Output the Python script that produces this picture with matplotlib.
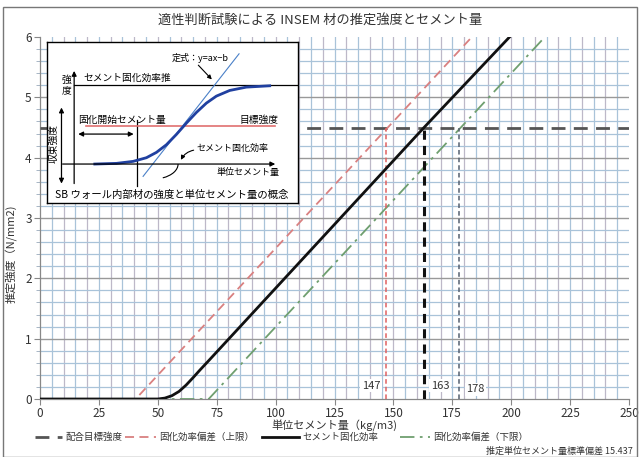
import numpy as np
import matplotlib
matplotlib.use("Agg")
import matplotlib.pyplot as plt
from matplotlib.patches import Rectangle, Arc
from matplotlib.lines import Line2D

plt.rcParams['font.family'] = ['Noto Sans CJK JP', 'DejaVu Sans']

# ---- data -------------------------------------------------------------
# cement solidification efficiency (kg/m3 -> N/mm2)
eff_x = [0, 50, 53, 56, 59, 62, 65, 68, 71, 163, 199.3]
eff_y = [0, 0, 0.015, 0.055, 0.125, 0.23, 0.355, 0.485, 0.61, 4.5, 6.0]
# deviation bands (upper / lower)
upper_x = [0, 40.6, 183.3]
upper_y = [0, 0, 6.0]
lower_x = [0, 71.6, 214.3]
lower_y = [0, 0, 6.0]
target_strength = 4.5
cement_upper = 147
cement_mid = 163
cement_lower = 178
std_dev = 15.437

x_ticks = [0, 25, 50, 75, 100, 125, 150, 175, 200, 225, 250]
y_ticks = [0, 1, 2, 3, 4, 5, 6]

legend_labels = ['配合目標強度', '固化効率偏差（上限）', 'セメント固化効率', '固化効率偏差（下限）']

# concept sketch (inset, sketch units)
s_curve_x = [165, 230, 280, 320, 350, 380, 410, 440, 470, 500, 530, 570, 620, 690]
s_curve_y = [403, 401, 395, 384, 368, 345, 314, 280, 248, 220, 199, 182, 172, 168]
tangent_x = [310, 598]
tangent_y = [440, 72]

# ---- figure -----------------------------------------------------------
W, H = 640, 457
fig = plt.figure(figsize=(6.4, 4.57), dpi=100)
fig.patches.append(Rectangle((3 / W, 0), (W - 6) / W, 1 - 7 / H,
                             transform=fig.transFigure, fill=False,
                             ec='#777777', lw=1.0, zorder=0))

ax = fig.add_axes([40 / W, 1 - 399 / H, (629 - 40) / W, (399 - 37) / H])
ax.set_xlim(0, 250)
ax.set_ylim(0, 6)

# grid: light blue minors, grey majors
for i, xv in enumerate(np.arange(5, 250, 5)):
    col = '#a9c3d9' if i % 2 == 0 else '#bdb8c8'
    ax.axvline(xv, color=col, lw=0.9, zorder=0)
for yv in np.arange(0.2, 6.0, 0.2):
    if abs(yv - round(yv)) < 1e-6:
        ax.axhline(yv, color='#999999', lw=1.0, zorder=0.5)
    else:
        ax.axhline(yv, color='#a9c3d9', lw=0.9, zorder=0)

ax.set_xticks(x_ticks)
ax.set_yticks(y_ticks)
ax.set_yticks(np.arange(0, 6.01, 0.2), minor=True)
ax.tick_params(axis='both', which='major', length=4, color='#888888',
               labelsize=8.5, labelcolor='#333333', pad=2)
ax.tick_params(axis='y', which='minor', length=3, color='#9ab')
for s in ax.spines.values():
    s.set_color('#888888')
    s.set_linewidth(0.9)
ax.spines['top'].set_visible(False)
ax.spines['right'].set_visible(False)

# curves
st_target = dict(color='#555555', lw=2.0, ls=(0, (5, 3)))
st_up = dict(color='#d98080', lw=1.3, ls=(0, (5, 3)))
st_eff = dict(color='#111111', lw=2.0, ls='-')
st_low = dict(color='#6f9f6f', lw=1.3, ls=(0, (8, 3, 1.5, 3)))

ax.axhline(target_strength, zorder=3, **st_target)
ax.plot(upper_x, upper_y, zorder=3, **st_up)
ax.plot(eff_x, eff_y, zorder=4, **st_eff)
ax.plot(lower_x, lower_y, zorder=3, **st_low)

# reading lines down to the x axis
ax.plot([cement_upper, cement_upper], [0, target_strength], color='#e06060',
        lw=1.1, ls=(0, (3, 2)), zorder=3)
ax.plot([cement_mid, cement_mid], [0, target_strength], color='#111111',
        lw=2.2, ls=(0, (3, 2)), zorder=3)
ax.plot([cement_lower, cement_lower], [0, target_strength], color='#556070',
        lw=1.1, ls=(0, (3, 2)), zorder=3)

bbox = dict(boxstyle='square,pad=0.15', fc='white', ec='none')
ax.text(cement_upper - 2.5, 0.22, str(cement_upper), ha='right', va='center',
        fontsize=8, color='#333333', bbox=bbox, zorder=5)
ax.text(cement_mid + 3, 0.22, str(cement_mid), ha='left', va='center',
        fontsize=8, color='#333333', bbox=bbox, zorder=5)
ax.text(cement_lower + 3, 0.16, str(cement_lower), ha='left', va='center',
        fontsize=8, color='#333333', bbox=bbox, zorder=5)

ax.set_xlabel('単位セメント量（kg/m3)', fontsize=8, color='#333333', labelpad=0)
ax.set_ylabel('推定強度（N/mm2)', fontsize=8, color='#333333')
ax.yaxis.set_label_coords(-0.038, 0.40)

fig.text(0.5, 1 - 20 / H, '適性判断試験による INSEM 材の推定強度とセメント量',
         ha='center', va='center', fontsize=9.5, color='#333333')

# legend row drawn item by item
leg_y = 1 - 437 / H
leg_items = [(35, 62, st_target), (125, 156, st_up), (262, 299, st_eff),
             (400, 430, st_low)]
for (h0, h1, st), lab in zip(leg_items, legend_labels):
    fig.add_artist(Line2D([h0 / W, h1 / W], [leg_y, leg_y],
                          transform=fig.transFigure, **st))
    fig.text((h1 + 3) / W, leg_y, lab, ha='left', va='center',
             fontsize=6.8, color='#333333')
fig.text(633 / W, 1 - 451 / H, f'推定単位セメント量標準偏差 {std_dev}',
         ha='right', va='center', fontsize=6.5, color='#333333')

# ---- concept inset ----------------------------------------------------
ix0, iy0, ix1, iy1 = 46.5, 41.5, 298, 203
ins = fig.add_axes([ix0 / W, 1 - iy1 / H, (ix1 - ix0) / W, (iy1 - iy0) / H],
                   zorder=10)
ins.set_xlim(20, 775)
ins.set_ylim(520, 35)
ins.set_xticks([])
ins.set_yticks([])
ins.set_facecolor('white')
for s in ins.spines.values():
    s.set_color('black')
    s.set_linewidth(1.0)

fs = 7
arr = dict(arrowstyle='-|>', color='black', lw=0.9, mutation_scale=7)
darr = dict(arrowstyle='<|-|>', color='black', lw=0.9, mutation_scale=7)
# axes of the sketch
ins.annotate('', xy=(103, 115), xytext=(103, 470), arrowprops=arr)
ins.annotate('', xy=(715, 403), xytext=(60, 403), arrowprops=arr)
# convergent strength / start amount
ins.plot([103, 775], [165, 165], color='black', lw=0.9)
ins.annotate('', xy=(65, 225), xytext=(65, 470), arrowprops=darr)
ins.annotate('', xy=(107, 313), xytext=(290, 313), arrowprops=darr)
ins.plot([293, 293], [270, 470], color='black', lw=0.9)
ins.plot([140, 705], [290, 290], color='#e07070', lw=1.2)
ins.plot(tangent_x, tangent_y, color='#4a80c8', lw=0.8)
ins.plot(s_curve_x, s_curve_y, color='#2040a0', lw=2.0)
ins.add_patch(Arc((340, 403), 150, 90, theta1=0, theta2=55, color='black', lw=0.8))
ins.annotate('', xy=(420, 398), xytext=(470, 360),
             arrowprops=dict(arrowstyle='-|>', color='black', lw=0.8,
                             mutation_scale=6, connectionstyle='arc3,rad=0.3'))
ins.annotate('', xy=(522, 155), xytext=(470, 100),
             arrowprops=dict(arrowstyle='-|>', color='black', lw=0.8,
                             mutation_scale=6))

ins.text(130, 143, 'セメント固化効率推', fontsize=fs, va='center')
ins.text(80, 165, '強\n度', fontsize=fs, ha='center', va='center',
         linespacing=1.0)
ins.text(40, 340, '収束強度', fontsize=fs, rotation=90, ha='center', va='center')
ins.text(115, 270, '固化開始セメント量', fontsize=fs, va='center')
ins.text(600, 270, '目標強度', fontsize=fs, va='center')
ins.text(395, 85, '定式：y=ax−b', fontsize=fs - 0.5, va='center')
ins.text(470, 355, 'セメント固化効率', fontsize=fs - 0.5, va='center')
ins.text(530, 428, '単位セメント量', fontsize=fs - 0.5, va='center')
ins.text(395, 495, 'SB ウォール内部材の強度と単位セメント量の概念',
         fontsize=7.5, ha='center', va='center')

fig.savefig('out.png', dpi=100)
